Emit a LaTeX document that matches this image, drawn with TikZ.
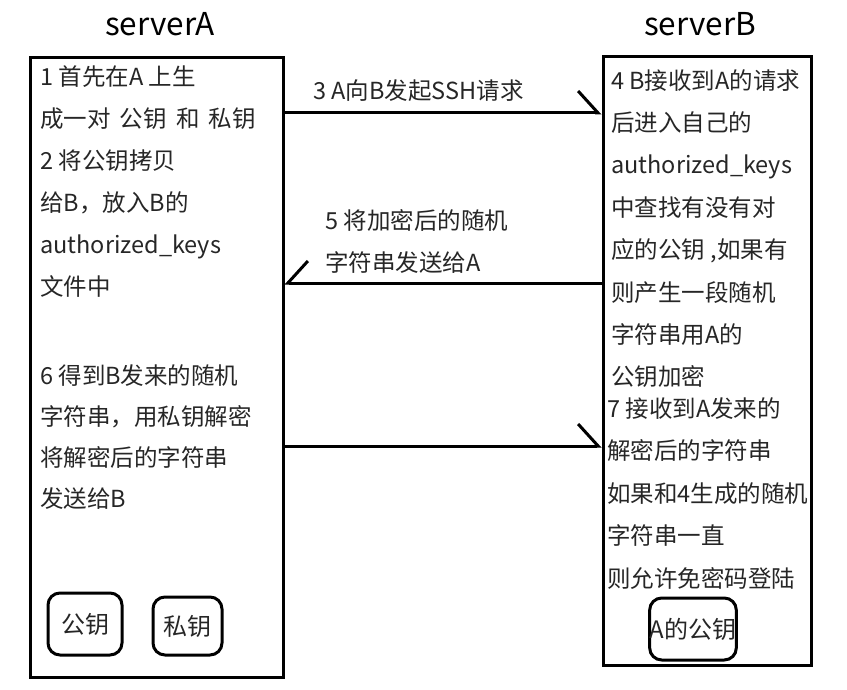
\documentclass[tikz,border=0pt]{standalone}
\usepackage{fontspec}
\setmainfont{Noto Sans CJK SC}
\usetikzlibrary{arrows.meta,positioning}
\tikzset{srvbox/.style={draw, line width=3pt, inner sep=0pt}}
\tikzset{harp/.style={line width=3pt, -{Straight Barb[#1, length=20pt, width=44pt, line width=3pt]}}}
\tikzstyle{txt}=[anchor=north west, inner sep=0pt, align=left, text=black!85, font=\fontsize{23.5}{42}\selectfont]
\tikzstyle{keybox}=[draw, line width=3pt, rounded corners=12pt, inner sep=0pt, text=black!85, font=\fontsize{24}{26}\selectfont]

\begin{document}
\begin{tikzpicture}[x=1pt, y=-1pt]
\useasboundingbox (0,0) rectangle (847,690);
% titles
\node[font=\fontsize{31.5}{34}\selectfont] (tA) at (160,24) {serverA};
\node[font=\fontsize{31.5}{34}\selectfont] (tB) at (700,24) {serverB};
% the two servers
\node[srvbox, minimum width=253pt, minimum height=619pt] (A) at (156.5,367.5) {};
\node[srvbox, minimum width=208pt, minimum height=608pt] (B) at (707,361) {};
% texts in A
\node[txt] (a1) at (40,65) {1 首先在A 上生\\成一对\, 公钥\, 和\, 私钥\\2 将公钥拷贝\\给B，放入B的\\authorized\_keys\\文件中};
\node[txt, font=\fontsize{23.5}{41}\selectfont] (a2) at (40,364) {6 得到B发来的随机\\字符串，用私钥解密\\将解密后的字符串\\发送给B};
% texts in B
\node[txt, font=\fontsize{23.5}{42.4}\selectfont] (b1) at (611,69) {4 B接收到A的请求\\后进入自己的\\authorized\_keys\\中查找有没有对\\应的公钥 ,如果有\\则产生一段随机\\字符串用A的\\公钥加密};
\node[txt, font=\fontsize{23.5}{42.5}\selectfont] (b2) at (607,397) {7 接收到A发来的\\解密后的字符串\\如果和4生成的随机\\字符串一直\\则允许免密码登陆};
% keys
\node[keybox, minimum width=74pt, minimum height=62pt] (pubA) at (85,624) {公钥};
\node[keybox, minimum width=69pt, minimum height=58pt] (priA) at (187.5,626) {私钥};
\node[keybox, minimum width=84pt, minimum height=62pt] (pubB) at (693,629) {A的公钥};
% messages
\draw[harp=left] (A.east |- 0,113) -- (B.west |- 0,113);
\node[txt] (m3) at (313,79) {3 A向B发起SSH请求};
\draw[harp=right] (B.west |- 0,283) -- (A.east |- 0,283);
\node[txt] (m5) at (325,209) {5 将加密后的随机\\字符串发送给A};
\draw[harp=left] (A.east |- 0,446) -- (B.west |- 0,446);
\end{tikzpicture}
\end{document}
